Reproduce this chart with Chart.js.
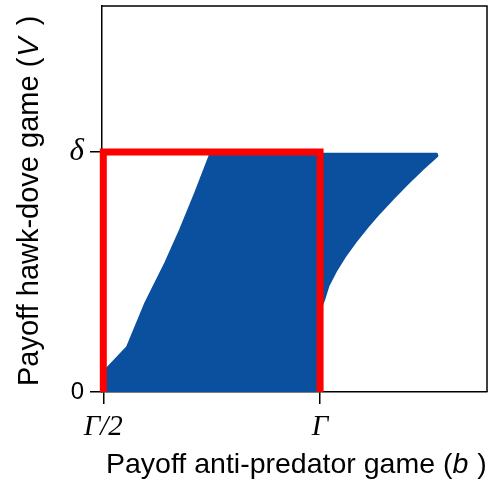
<!DOCTYPE html>
<html>
<head>
<meta charset="utf-8">
<script src="https://cdn.jsdelivr.net/npm/chart.js@4/dist/chart.umd.min.js"></script>
<style>
  html, body { margin: 0; padding: 0; background: #fff; }
  #wrap { width: 493px; height: 484px; }
</style>
</head>
<body>
<div id="wrap"><canvas id="chart"></canvas></div>
<script>
// tick positions (Gamma = 1, delta = 1)
const xTicks = [0.5, 1];
const xTickLabels = ['Γ/2', 'Γ'];
const yTicks = [0, 1];
const yTickLabels = ['0', 'δ'];

// outline of the blue region
// left edge (rising), top edge, then the right curve back down to b = Gamma
const regionX = [0.5, 0.5, 0.507, 0.555, 0.597, 0.643, 0.677, 0.712, 0.747,
                 1.269, 1.2705, 1.2359, 1.2014, 1.1687, 1.1376, 1.1088, 1.0820,
                 1.0578, 1.0369, 1.0196, 1.0092, 1.003, 1.0, 1.0];
const regionY = [0, 0.092, 0.096, 0.188, 0.371, 0.538, 0.675, 0.829, 0.993,
                 0.993, 0.983, 0.9271, 0.8667, 0.8063, 0.7458, 0.6854, 0.625,
                 0.5646, 0.5042, 0.4438, 0.3833, 0.355, 0.34, 0];

// red box
const boxX = [0.5, 0.5, 1, 1];
const boxY = [0, 1, 1, 0];

const toPoints = (xs, ys) => xs.map((x, i) => ({x: x, y: ys[i]}));

// draws a line of text made of pieces with different fonts
function drawPieces(ctx, pieces, x, y) {
    let cx = x;
    pieces.forEach(p => {
        ctx.font = p.font;
        ctx.fillText(p.text, cx, y);
        cx += ctx.measureText(p.text).width + (p.gap || 0);
    });
}

const sans = size => size + 'px "Liberation Sans", Arial, sans-serif';
const sansIt = size => 'italic ' + size + 'px "Liberation Sans", Arial, sans-serif';

const extras = {
    id: 'extras',
    beforeDatasetsDraw(chart) {
        const {ctx, chartArea: a} = chart;
        ctx.save();
        ctx.strokeStyle = '#000';
        ctx.lineWidth = 1.5;
        ctx.beginPath();
        ctx.moveTo(a.left, a.top);
        ctx.lineTo(a.right, a.top);
        ctx.lineTo(a.right, a.bottom);
        ctx.stroke();
        ctx.restore();
    },
    afterDraw(chart) {
        const ctx = chart.ctx;
        ctx.save();
        ctx.fillStyle = '#000';
        ctx.textBaseline = 'alphabetic';
        ctx.textAlign = 'left';
        drawPieces(ctx, [
            {text: 'Payoff anti-predator game (', font: sans(28.5)},
            {text: 'b', font: sansIt(28.5), gap: 1},
            {text: ' )', font: sans(28.5)}
        ], 106, 473);
        ctx.translate(38, 386);
        ctx.rotate(-Math.PI / 2);
        drawPieces(ctx, [
            {text: 'Payoff hawk-dove game (', font: sans(29), gap: 1},
            {text: 'V', font: sansIt(29), gap: 4},
            {text: ' )', font: sans(29)}
        ], 0, 0);
        ctx.restore();
    }
};

const noPad = s => { s.paddingTop = 0; s.paddingBottom = 0; s.paddingLeft = 0; s.paddingRight = 0; };

new Chart(document.getElementById('chart'), {
    type: 'scatter',
    data: {
        datasets: [
            {
                data: toPoints(boxX, boxY),
                showLine: true,
                fill: false,
                borderColor: '#ff0000',
                borderWidth: 7,
                borderJoinStyle: 'miter',
                pointRadius: 0,
                clip: 10,
                order: 1
            },
            {
                data: toPoints(regionX, regionY),
                showLine: true,
                fill: 'shape',
                backgroundColor: '#0b509f',
                borderColor: '#0b509f',
                borderWidth: 2,
                borderJoinStyle: 'round',
                pointRadius: 0,
                order: 2
            }
        ]
    },
    options: {
        responsive: true,
        maintainAspectRatio: false,
        animation: false,
        layout: { padding: { top: 6, right: 6, left: 0, bottom: 0 } },
        plugins: {
            legend: { display: false },
            tooltip: { enabled: false }
        },
        scales: {
            x: {
                type: 'linear',
                min: 0.497,
                max: 1.385,
                afterBuildTicks: s => { s.ticks = xTicks.map(v => ({value: v})); },
                afterFit: s => { s.height = 92; noPad(s); },
                ticks: {
                    callback: v => xTickLabels[xTicks.indexOf(v)],
                    color: '#000',
                    font: { family: '"Liberation Serif", "Times New Roman", serif', style: 'italic', size: 29 },
                    padding: 6,
                    maxRotation: 0
                },
                grid: { drawOnChartArea: false, tickLength: 12, color: '#000', lineWidth: 1.5 },
                border: { display: true, color: '#000', width: 1.5 }
            },
            y: {
                type: 'linear',
                min: 0,
                max: 1.608,
                afterBuildTicks: s => { s.ticks = yTicks.map(v => ({value: v})); },
                afterFit: s => { s.width = 102; noPad(s); },
                ticks: {
                    callback: v => yTickLabels[yTicks.indexOf(v)],
                    color: '#000',
                    font: c => c.tick && c.tick.value === 1
                        ? { family: '"Liberation Serif", "Times New Roman", serif', style: 'italic', size: 31 }
                        : { family: '"Liberation Sans", Arial, sans-serif', size: 24 },
                    padding: 6
                },
                grid: { drawOnChartArea: false, tickLength: 12, color: '#000', lineWidth: 1.5 },
                border: { display: true, color: '#000', width: 1.5 }
            }
        }
    },
    plugins: [extras]
});
</script>
</body>
</html>
